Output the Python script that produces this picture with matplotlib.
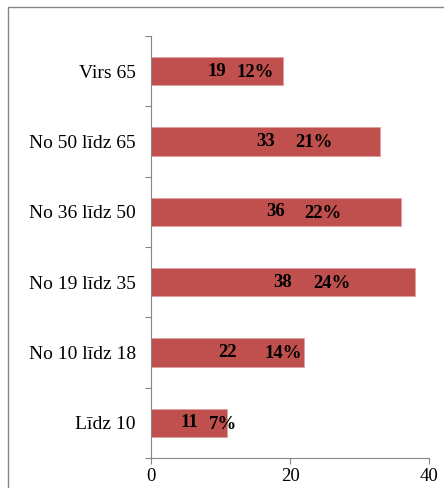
import matplotlib
matplotlib.use("Agg")
import matplotlib.pyplot as plt
from matplotlib.patches import Rectangle
import numpy as np

categories = ["Līdz 10", "No 10 līdz 18", "No 19 līdz 35", "No 36 līdz 50", "No 50 līdz 65", "Virs 65"]
counts = [11, 22, 38, 36, 33, 19]
percents = ["7%", "14%", "24%", "22%", "21%", "12%"]
pct_offsets_px = [34, 56, 49, 47, 48, 38]
x_ticks = [0, 20, 40]

plt.rcParams['font.family'] = ['Liberation Serif', 'DejaVu Serif']

W, H = 444, 488
fig = plt.figure(figsize=(W / 100, H / 100), dpi=100)
fig.patches.append(Rectangle((8 / W, -0.1), 1.2, 1 - 7 / H + 0.1, transform=fig.transFigure,
                             fill=False, edgecolor="#868686", linewidth=1.0))

ax = fig.add_axes([151 / W, 1 - 458 / H, (429 - 151) / W, (458 - 36) / H])
y = np.arange(len(categories))
ax.barh(y, counts, height=0.4, color="#C0504D", edgecolor="#E0A09E", linewidth=0.6, zorder=2)

ax.set_xlim(0, 40)
ax.set_ylim(-0.5, len(categories) - 0.5)
ax.set_xticks(x_ticks)
ax.set_xticklabels([str(t) for t in x_ticks], fontsize=13.5)
ax.set_yticks(y)
ax.set_yticklabels(categories, fontsize=14)
ax.set_yticks(np.arange(-0.5, len(categories)), minor=True)
ax.tick_params(axis="y", which="major", length=0, pad=11)
ax.tick_params(axis="y", which="minor", length=4, color="#868686", width=0.8)
ax.tick_params(axis="x", which="major", length=4, color="#868686", width=0.8, pad=3)

for s in ["top", "right"]:
    ax.spines[s].set_visible(False)
for s in ["left", "bottom"]:
    ax.spines[s].set_color("#868686")
    ax.spines[s].set_linewidth(0.8)

for i, (c, p, off) in enumerate(zip(counts, percents, pct_offsets_px)):
    ax.text(c / 2, i, str(c), ha="center", va="center", fontsize=13.5, fontweight="bold", color="black")
    ax.annotate(p, xy=(c / 2, i), xytext=(off * 0.72, -1), textcoords="offset points",
                ha="center", va="center", fontsize=13.5, fontweight="bold", color="black")

fig.savefig("out.png", dpi=100)
